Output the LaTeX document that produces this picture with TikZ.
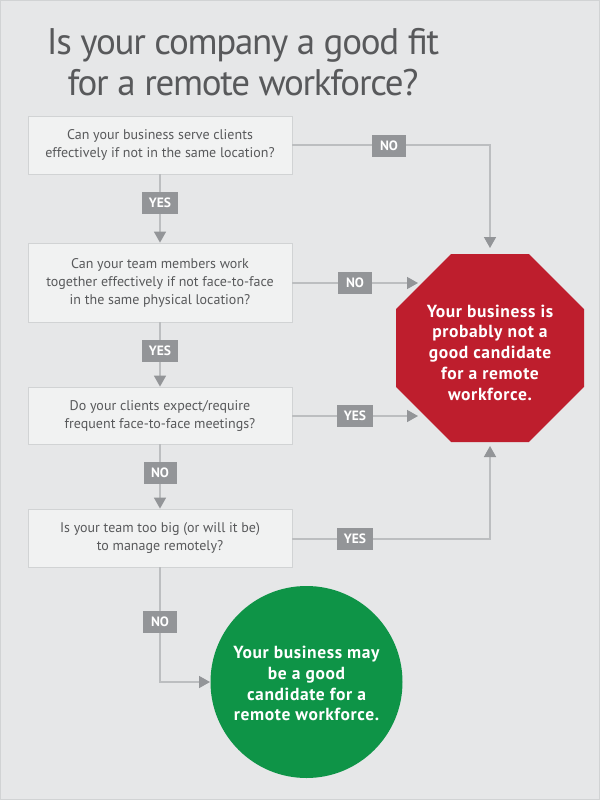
\documentclass[tikz,border=0pt]{standalone}
\usepackage{fontspec}
\setmainfont{PT Sans}
\usetikzlibrary{arrows.meta,shapes.geometric}
\definecolor{bg}{HTML}{E6E7E8}
\definecolor{boxfill}{HTML}{F1F2F2}
\definecolor{boxline}{HTML}{D1D3D4}
\definecolor{txt}{HTML}{58595B}
\definecolor{lblfill}{HTML}{939598}
\definecolor{conline}{HTML}{BCBEC0}
\definecolor{stopred}{HTML}{BE1E2D}
\definecolor{gogreen}{HTML}{0E9447}
\tikzset{
  qbox/.style={draw=boxline, fill=boxfill, line width=0.8pt, minimum width=264pt, inner sep=0pt,
    align=center, text=txt, font=\fontsize{14}{18}\selectfont},
  lbl/.style={fill=lblfill, text=white, font=\bfseries\fontsize{13.5}{13.5}\selectfont,
    minimum height=22pt, inner sep=0pt},
  conn/.style={draw=conline, line width=1.5pt, -{Triangle[length=11pt,width=12pt,color=lblfill]}},
  titletext/.style={text=txt, font=\fontsize{37}{40}\selectfont\addfontfeatures{LetterSpace=-3.5}, anchor=base, inner sep=0pt},
  endtext/.style={text=white, align=center, inner sep=0pt, font=\bfseries\fontsize{17.5}{20.8}\selectfont\addfontfeatures{LetterSpace=3.5}}
}
\begin{document}
\begin{tikzpicture}[x=1pt,y=-1pt]
\useasboundingbox (0,0) rectangle (600,800);
\fill[bg] (0,0) rectangle (600,800);
\draw[boxline, line width=1pt] (0.5,0.5) rectangle (599.5,799.5);

\node[titletext] (t1) at (243,55) {Is your company a good fit};
\node[titletext] (t2) at (243,95) {for a remote workforce?};

\node[qbox, minimum height=58pt] (q1) at (160,145) {Can your business serve clients\\effectively if not in the same location?};
\node[qbox, minimum height=79pt] (q2) at (160,282.5) {Can your team members work\\together effectively if not face-to-face\\in the same physical location?};
\node[qbox, minimum height=57pt] (q3) at (160,415.5) {Do your clients expect/require\\frequent face-to-face meetings?};
\node[qbox, minimum height=58pt] (q4) at (160,538) {Is your team too big (or will it be)\\to manage remotely?};

\node[regular polygon, regular polygon sides=8, minimum size=203.5pt, inner sep=0pt,
  fill=stopred] (stop) at (490,348) {};
\node[endtext] (stoptext) at (490,352.5) {Your business is\\probably not a\\good candidate\\for a remote\\workforce.};
\node[circle, minimum size=192pt, inner sep=0pt, fill=gogreen] (go) at (306.5,682) {};
\node[endtext] (gotext) at (306.5,683.5) {Your business may\\be a good\\candidate for a\\remote workforce.};

\coordinate (c1) at (490,145);
\coordinate (a1) at (490,248);
\coordinate (a2) at (418,283);
\coordinate (a3) at (418,416);
\coordinate (c4) at (490,539);
\coordinate (a4) at (490,446);
\coordinate (c5) at (160,682);
\coordinate (a5) at (210,682);

% vertical flow
\draw[conn] (q1.south) -- (q2.north);
\draw[conn] (q2.south) -- (q3.north);
\draw[conn] (q3.south) -- (q4.north);
\draw[conn] (q4.south) -- (c5) -- (a5);

% to stop
\draw[conn] (q1.east) -- (c1) -- (a1);
\draw[conn] (q2.east |- a2) -- (a2);
\draw[conn] (q3.east |- a3) -- (a3);
\draw[conn] (q4.east |- c4) -- (c4) -- (a4);

% labels
\node[lbl, minimum width=36pt] (y1) at (160,203) {YES};
\node[lbl, minimum width=36pt] (y2) at (160,350.5) {YES};
\node[lbl, minimum width=33pt] (n3) at (160,473) {NO};
\node[lbl, minimum width=34pt] (n4) at (160,621.5) {NO};
\node[lbl, minimum width=34pt] (n1) at (389,146) {NO};
\node[lbl, minimum width=34pt] (n2) at (355,283) {NO};
\node[lbl, minimum width=36pt] (y3) at (355,416) {YES};
\node[lbl, minimum width=36pt] (y4) at (355,539) {YES};
\end{tikzpicture}
\end{document}
